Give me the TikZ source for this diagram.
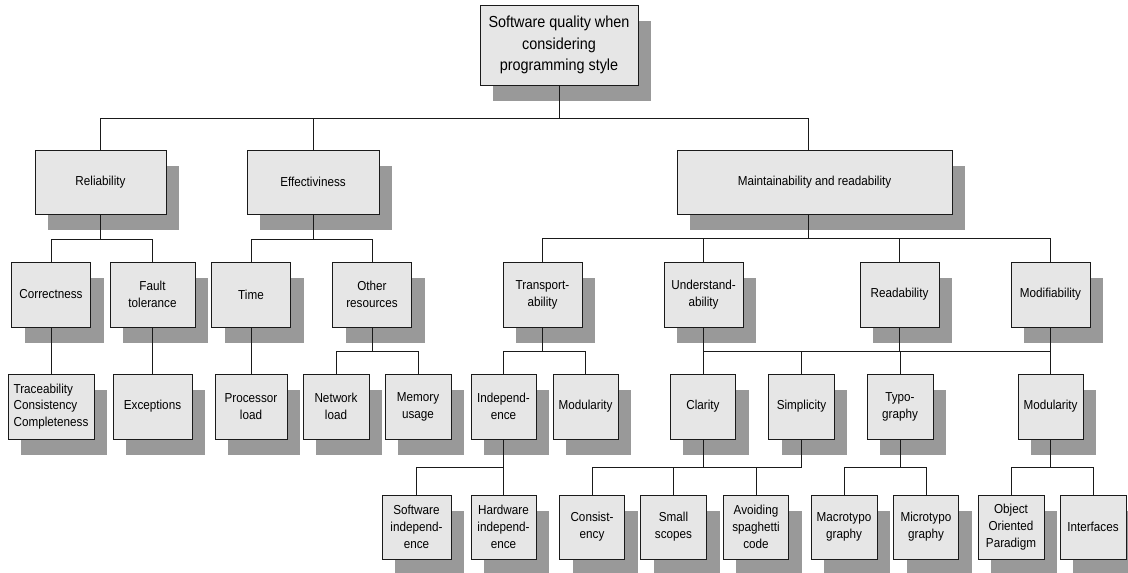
\documentclass[tikz,border=0pt]{standalone}
\usepackage{fontspec}
\setmainfont{Liberation Sans}[FakeStretch=0.9]
\usetikzlibrary{shadows}
\definecolor{boxfill}{HTML}{E6E6E6}
\definecolor{shgray}{HTML}{999999}
\definecolor{edge}{HTML}{1A1A1A}
\begin{document}
\begin{tikzpicture}[x=1pt,y=-1pt,
  box/.style={draw=edge, line width=1pt, fill=boxfill, inner sep=1pt, align=center,
    font=\fontsize{13}{16.8}\selectfont, minimum height=64pt,
    drop shadow={shadow xshift=13pt, shadow yshift=-16pt, fill=shgray, opacity=1}},
  conn/.style={draw=edge, line width=0.9pt}]
\useasboundingbox (0,0) rectangle (1128,573);
% root
\node[box, font=\fontsize{16}{21.5}\selectfont, minimum width=158pt, minimum height=80pt] (root) at (559,45) {Software quality when\\considering\\programming style};
% level 1
\node[box, minimum width=131pt] (rel) at (100.5,182) {Reliability};
\node[box, minimum width=132pt] (eff) at (313,182) {Effectiviness};
\node[box, minimum width=275pt] (maint) at (814.5,182) {Maintainability and readability};
% level 2
\node[box, minimum width=79pt, minimum height=65pt] (corr) at (51,294.5) {Correctness};
\node[box, minimum width=85pt, minimum height=65pt] (fault) at (152.5,294.5) {Fault\\tolerance};
\node[box, minimum width=79pt, minimum height=65pt] (time) at (251,294.5) {Time};
\node[box, minimum width=79pt, minimum height=65pt] (other) at (372,294.5) {Other\\resources};
\node[box, minimum width=79pt, minimum height=65pt] (trans) at (542.5,294.5) {Transport-\\ability};
\node[box, minimum width=79pt, minimum height=65pt] (und) at (703.5,294.5) {Understand-\\ability};
\node[box, minimum width=79pt, minimum height=65pt] (read) at (899.5,294.5) {Readability};
\node[box, minimum width=79pt, minimum height=65pt] (modf) at (1050.5,294.5) {Modifiability};
% level 3
\node[box, align=left, minimum width=86pt, minimum height=65pt] (trace) at (51,406.5) {Traceability\\Consistency\\Completeness};
\node[box, minimum width=79pt, minimum height=65pt] (exc) at (152.5,406.5) {Exceptions};
\node[box, minimum width=72pt, minimum height=65pt] (proc) at (251,406.5) {Processor\\load};
\node[box, minimum width=66pt, minimum height=65pt] (net) at (336,406.5) {Network\\load};
\node[box, minimum width=66pt, minimum height=65pt] (mem) at (418,406.5) {Memory\\usage};
\node[box, minimum width=65pt, minimum height=65pt] (indep) at (503.5,406.5) {Independ-\\ence};
\node[box, minimum width=65pt, minimum height=65pt] (modt) at (585.5,406.5) {Modularity};
\node[box, minimum width=65.5pt, minimum height=65pt] (clar) at (703,406.5) {Clarity};
\node[box, minimum width=65.5pt, minimum height=65pt] (simp) at (801.5,406.5) {Simplicity};
\node[box, minimum width=66pt, minimum height=65pt] (typo) at (900,406.5) {Typo-\\graphy};
\node[box, minimum width=65pt, minimum height=65pt] (mod2) at (1050.5,406.5) {Modularity};
% level 4
\node[box, minimum width=69pt] (swi) at (416.5,527) {Software\\independ-\\ence};
\node[box, minimum width=65pt] (hwi) at (503.5,527) {Hardware\\independ-\\ence};
\node[box, minimum width=65pt] (cons) at (592,527) {Consist-\\ency};
\node[box, minimum width=66pt] (small) at (673.5,527) {Small\\scopes};
\node[box, minimum width=65.5pt] (avoid) at (756,527) {Avoiding\\spaghetti\\code};
\node[box, minimum width=66pt] (macro) at (844,527) {Macrotypo\\graphy};
\node[box, minimum width=65pt] (micro) at (926,527) {Microtypo\\graphy};
\node[box, minimum width=66pt] (oop) at (1011,527) {Object\\Oriented\\Paradigm};
\node[box, minimum width=66pt] (intf) at (1093,527) {Interfaces};
% connectors
\draw[conn] (root.south) -- ++(0,33) -| (rel.north);
\draw[conn] (root.south) -- ++(0,33) -| (eff.north);
\draw[conn] (root.south) -- ++(0,33) -| ([xshift=-6.5pt]maint.north);
\draw[conn] (rel.south) -- ++(0,25) -| (corr.north);
\draw[conn] (rel.south) -- ++(0,25) -| (fault.north);
\draw[conn] (eff.south) -- ++(0,25) -| (time.north);
\draw[conn] (eff.south) -- ++(0,25) -| (other.north);
\draw[conn] ([xshift=-6.5pt]maint.south) -- ++(0,24) -| (trans.north);
\draw[conn] ([xshift=-6.5pt]maint.south) -- ++(0,24) -| (und.north);
\draw[conn] ([xshift=-6.5pt]maint.south) -- ++(0,24) -| (read.north);
\draw[conn] ([xshift=-6.5pt]maint.south) -- ++(0,24) -| (modf.north);
\draw[conn] (corr.south) -- (trace.north);
\draw[conn] (fault.south) -- (exc.north);
\draw[conn] (time.south) -- (proc.north);
\draw[conn] (other.south) -- ++(0,24) -| (net.north);
\draw[conn] (other.south) -- ++(0,24) -| (mem.north);
\draw[conn] (trans.south) -- ++(0,24) -| (indep.north);
\draw[conn] (trans.south) -- ++(0,24) -| (modt.north);
\draw[conn] (und.south) -- ++(0,24) -| (clar.north);
\draw[conn] (und.south) -- ++(0,24) -| (simp.north);
\draw[conn] (und.south) -- ++(0,24) -| (mod2.north);
\draw[conn] (read.south) -- ++(0,24) -| (typo.north);
\draw[conn] (modf.south) -- (mod2.north);
\draw[conn] (indep.south) -- ++(0,28) -| (swi.north);
\draw[conn] (indep.south) -- ++(0,28) -| (hwi.north);
\draw[conn] (clar.south) -- ++(0,28) -| (cons.north);
\draw[conn] (clar.south) -- ++(0,28) -| (small.north);
\draw[conn] (simp.south) -- ++(0,28) -| (cons.north);
\draw[conn] (simp.south) -- ++(0,28) -| (avoid.north);
\draw[conn] (typo.south) -- ++(0,28) -| (macro.north);
\draw[conn] (typo.south) -- ++(0,28) -| (micro.north);
\draw[conn] (mod2.south) -- ++(0,28) -| (oop.north);
\draw[conn] (mod2.south) -- ++(0,28) -| (intf.north);
\end{tikzpicture}
\end{document}
